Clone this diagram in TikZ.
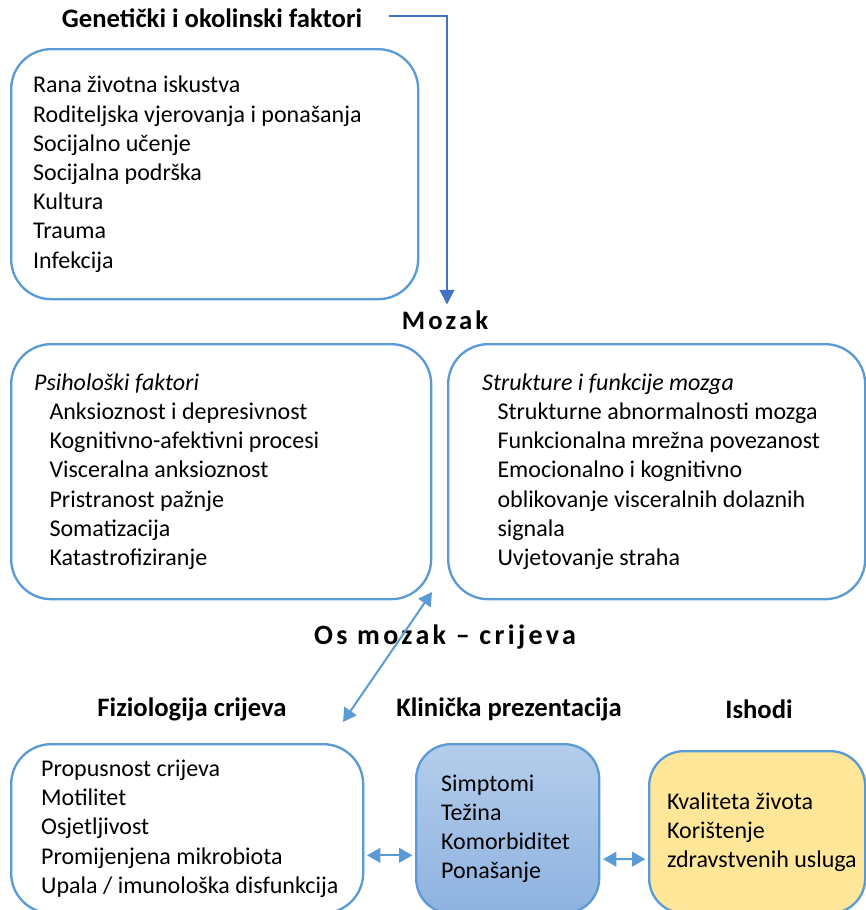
\documentclass[tikz,border=0pt]{standalone}
\usepackage{fontspec}
\setmainfont{Carlito}
\usetikzlibrary{arrows.meta}
\definecolor{boxblue}{HTML}{5B9BD5}
\definecolor{darkblue}{HTML}{4472C4}
\definecolor{outyellow}{HTML}{FFE699}
\definecolor{clintop}{HTML}{B4CDEB}
\definecolor{clinbottom}{HTML}{8EB2E0}
% box width, left inset, lines
\newcommand{\boxtext}[3]{\parbox{#1}{\raggedright\leftskip=#2\relax #3\par}}
\newcommand{\ind}{\hspace*{11.5pt}}
\tikzset{
      box/.style = { draw=boxblue, line width=1.75pt, rounded corners=30pt,
                     anchor=north west, inner sep=0pt,
                     font=\fontsize{18}{21.9}\selectfont },
     head/.style = { font=\bfseries\fontsize{20}{24}\selectfont },
    arrow/.style = { line width=1.5pt, color=darkblue, -{Triangle[length=11pt,width=11pt]} },
   darrow/.style = { line width=1.5pt, color=boxblue,
                     {Triangle[length=10pt,width=11pt]}-{Triangle[length=10pt,width=11pt]} }
}
\begin{document}
\begin{tikzpicture}[x=0.75pt, y=-0.75pt]
  \useasboundingbox (0,0) rectangle (866,910);

  \node[head] (gen) at (212,18) {Genetički i okolinski faktori};
  \node[box, minimum height=187.5pt] (env) at (10,48)
    {\boxtext{305.25pt}{16.5pt}{Rana životna iskustva\\ Roditeljska vjerovanja i ponašanja\\
     Socijalno učenje\\ Socijalna podrška\\ Kultura\\ Trauma\\ Infekcija}};

  \node[head] (mozak) at (445,320) {\addfontfeature{LetterSpace=12}Mozak};
  \node[box, minimum height=191.25pt] (psych) at (10,343)
    {\boxtext{315pt}{17.25pt}{\textit{Psihološki faktori}\\ \ind Anksioznost i depresivnost\\
     \ind Kognitivno-afektivni procesi\\ \ind Visceralna anksioznost\\
     \ind Pristranost pažnje\\ \ind Somatizacija\\ \ind Katastrofiziranje}};
  \node[box, minimum height=191.25pt] (brain) at (447,343)
    {\boxtext{312.75pt}{25.5pt}{\textit{Strukture i funkcije mozga}\\ \ind Strukturne abnormalnosti mozga\\
     \ind Funkcionalna mrežna povezanost\\ \ind Emocionalno i kognitivno\\
     \ind oblikovanje visceralnih dolaznih\\ \ind signala\\ \ind Uvjetovanje straha}};

  \node[font=\bfseries\fontsize{21}{24}\selectfont] (axis) at (445,637)
    {\addfontfeature{LetterSpace=12}Os mozak – crijeva};

  \node[head] (gutlbl) at (192,709) {Fiziologija crijeva};
  \node[head] (clinlbl) at (509,709) {Klinička prezentacija};
  \node[head] (outlbl) at (759,709) {Ishodi};

  \node[box, minimum height=126.75pt] (gut) at (10,743)
    {\boxtext{264pt}{22.5pt}{Propusnost crijeva\\ Motilitet\\ Osjetljivost\\
     Promijenjena mikrobiota\\ Upala / imunološka disfunkcija}};
  \node[box, rounded corners=26pt, top color=clintop, bottom color=clinbottom,
        minimum height=126.75pt] (clin) at (415,743)
    {\boxtext{137.25pt}{18.75pt}{Simptomi\\ Težina\\ Komorbiditet\\ Ponašanje}};
  \node[box, rounded corners=26pt, fill=outyellow, minimum height=121.5pt] (out) at (648,750)
    {\boxtext{162pt}{13.5pt}{Kvaliteta života\\ Korištenje\\ \mbox{zdravstvenih usluga}}};

  \coordinate (axtop) at (432,592);
  \coordinate (axbot) at (343,722);

  \draw[arrow] ([xshift=17pt,yshift=1.5pt]gen.east) -| ([xshift=1.5pt,yshift=1pt]mozak.north);
  \draw[darrow] (axbot) -- (axtop);
  \draw[darrow, shorten <=2pt, shorten >=2pt] ([yshift=-20pt]gut.east) -- ([yshift=-20pt]clin.west);
  \draw[darrow, shorten <=2pt, shorten >=2pt] ([yshift=-22.9pt]clin.east) -- ([yshift=-20.25pt]out.west);
\end{tikzpicture}
\end{document}
